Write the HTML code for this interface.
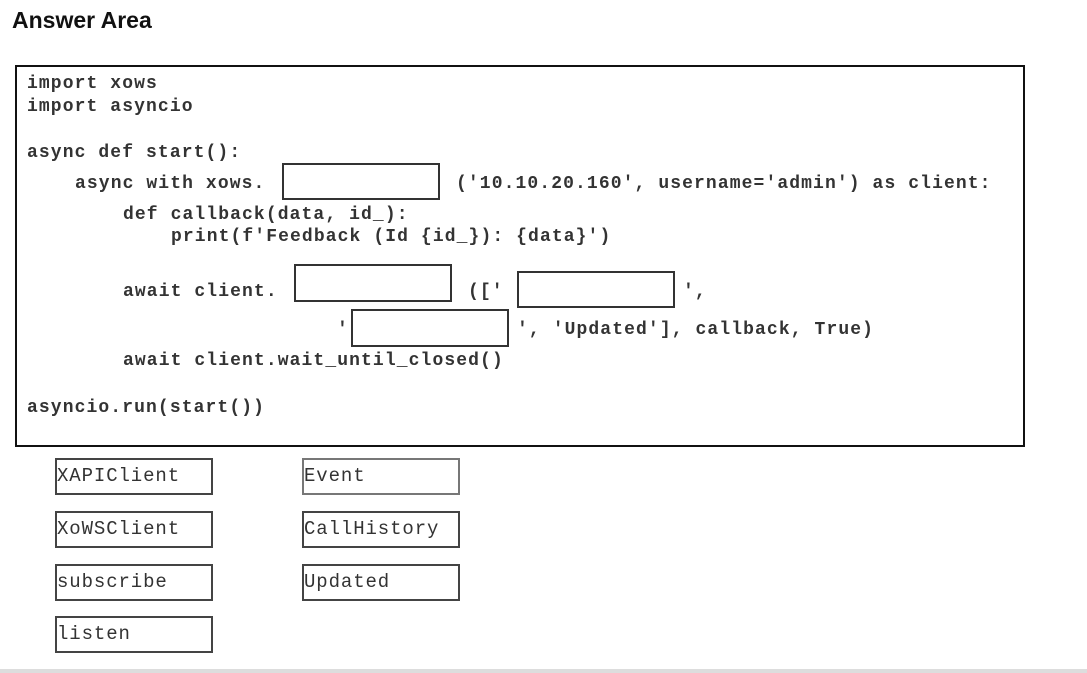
<!DOCTYPE html>
<html><head><meta charset="utf-8"><style>
body{margin:0;width:1087px;height:673px;background:#fff;position:relative;overflow:hidden}
.t{position:absolute;font-family:"Liberation Mono",monospace;font-weight:bold;font-size:18px;letter-spacing:1.1px;color:#333;white-space:pre;line-height:20px}
.b{position:absolute;border:2px solid #333;background:#fff;box-sizing:border-box}
.c{position:absolute;border:2px solid #444;box-sizing:border-box;width:158px;height:37px;font-family:"Liberation Mono",monospace;font-size:19px;letter-spacing:0.9px;color:#333;line-height:33px;padding-left:0px;white-space:pre}
</style></head><body>
<div style="position:absolute;left:12px;top:7px;font-family:'Liberation Sans',sans-serif;font-weight:bold;font-size:23px;color:#111">Answer Area</div>
<div class="b" style="left:15px;top:65px;width:1010px;height:382px;border-width:2.5px;border-color:#111"></div>
<div class="t" style="left:27px;top:74px">import xows</div>
<div class="t" style="left:27px;top:97px">import asyncio</div>
<div class="t" style="left:27px;top:143px">async def start():</div>
<div class="t" style="left:75px;top:174px">async with xows.</div>
<div class="b" style="left:282px;top:163px;width:158px;height:37px"></div>
<div class="t" style="left:456px;top:174px">('10.10.20.160', username='admin') as client:</div>
<div class="t" style="left:123px;top:205px">def callback(data, id_):</div>
<div class="t" style="left:171px;top:227px">print(f'Feedback (Id {id_}): {data}')</div>
<div class="t" style="left:123px;top:282px">await client.</div>
<div class="b" style="left:294px;top:264px;width:158px;height:38px"></div>
<div class="t" style="left:468px;top:282px">(['</div>
<div class="b" style="left:517px;top:271px;width:158px;height:37px"></div>
<div class="t" style="left:683px;top:282px">',</div>
<div class="t" style="left:337px;top:320px">'</div>
<div class="b" style="left:351px;top:309px;width:158px;height:38px"></div>
<div class="t" style="left:517px;top:320px">', 'Updated'], callback, True)</div>
<div class="t" style="left:123px;top:351px">await client.wait_until_closed()</div>
<div class="t" style="left:27px;top:398px">asyncio.run(start())</div>
<div class="c" style="left:55px;top:458px">XAPIClient</div>
<div class="c" style="left:55px;top:511px">XoWSClient</div>
<div class="c" style="left:55px;top:564px">subscribe</div>
<div class="c" style="left:55px;top:616px">listen</div>
<div class="c" style="left:302px;top:458px;border-color:#777">Event</div>
<div class="c" style="left:302px;top:511px">CallHistory</div>
<div class="c" style="left:302px;top:564px">Updated</div>
<div style="position:absolute;left:0;top:669px;width:1087px;height:4px;background:#ddd"></div>
</body></html>
